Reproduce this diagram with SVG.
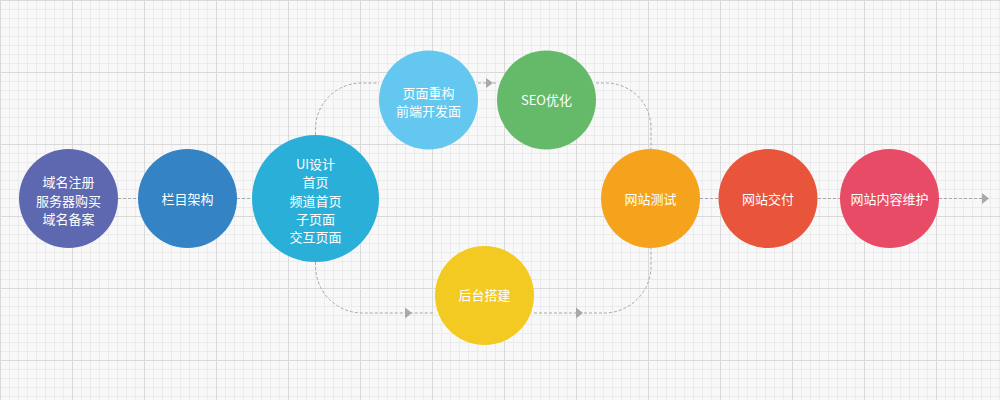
<svg xmlns="http://www.w3.org/2000/svg" width="1000" height="400" viewBox="0 0 1000 400">
<style>
.lbl{font-family:"Noto Sans CJK SC","Liberation Sans",sans-serif;font-size:13px;fill:#ffffff;text-anchor:middle}
.con{fill:none;stroke:#a8a8a8;stroke-width:1;stroke-dasharray:3 2}
.arr{fill:#a8a8a8}
</style>
<defs>
<pattern id="grid" patternUnits="userSpaceOnUse" x="0" y="0" width="72" height="72">
<rect width="72" height="72" fill="#f8f8f8"/>
<g fill="#ebebeb">
<rect x="9" y="0" width="1" height="72"/><rect x="18" y="0" width="1" height="72"/><rect x="27" y="0" width="1" height="72"/><rect x="36" y="0" width="1" height="72"/><rect x="45" y="0" width="1" height="72"/><rect x="54" y="0" width="1" height="72"/><rect x="63" y="0" width="1" height="72"/>
<rect y="9" x="0" height="1" width="72"/><rect y="18" x="0" height="1" width="72"/><rect y="27" x="0" height="1" width="72"/><rect y="36" x="0" height="1" width="72"/><rect y="45" x="0" height="1" width="72"/><rect y="54" x="0" height="1" width="72"/><rect y="63" x="0" height="1" width="72"/>
</g>
<g fill="#d9d9d9">
<rect x="0" y="0" width="1" height="72"/><rect x="0" y="0" width="72" height="1"/>
</g>
</pattern>
</defs>
<rect width="1000" height="400" fill="url(#grid)"/>
<g id="connectors">
<path class="con" d="M118,198.5 H138"/>
<path class="con" d="M237,198.5 H252"/>
<path class="con" d="M315.5,135 V129 A46 46 0 0 1 361.5 83 H379"/>
<path class="con" d="M478,83 H497"/>
<path class="arr" d="M486,78 L493,83 L486,88 Z"/>
<path class="con" d="M596,83 H606 A45 45 0 0 1 651 128 V149"/>
<path class="con" d="M315.5,262 V266 A47 47 0 0 0 362.5 313 H435"/>
<path class="arr" d="M405,307.5 L412,313 L405,318.5 Z"/>
<path class="con" d="M534,313 H604 A47 47 0 0 0 651 266 V248"/>
<path class="arr" d="M576,307.5 L583,313 L576,318.5 Z"/>
<path class="con" d="M700,198.5 H718"/>
<path class="con" d="M818,198.5 H840"/>
<path class="con" d="M939,198.5 H982"/>
<path class="arr" d="M982,193 L989,198.5 L982,204 Z"/>
</g>
<g id="n1"><circle cx="68.5" cy="198.5" r="49.5" fill="#5d68b0"/>
<text class="lbl" x="68.5" y="187">域名注册</text><text class="lbl" x="68.5" y="205.5">服务器购买</text><text class="lbl" x="68.5" y="223.5">域名备案</text></g>
<g id="n2"><circle cx="187.5" cy="198.5" r="49.5" fill="#3483c5"/>
<text class="lbl" x="187.5" y="203.5">栏目架构</text></g>
<g id="n3"><circle cx="315.5" cy="198.5" r="63.5" fill="#2aafd9"/>
<text class="lbl" x="315.5" y="168.5">UI设计</text><text class="lbl" x="315.5" y="187">首页</text><text class="lbl" x="315.5" y="205.5">频道首页</text><text class="lbl" x="315.5" y="223.5">子页面</text><text class="lbl" x="315.5" y="242">交互页面</text></g>
<g id="n4"><circle cx="428.5" cy="100" r="49.5" fill="#63c7ef"/>
<text class="lbl" x="428.5" y="98">页面重构</text><text class="lbl" x="428.5" y="116">前端开发面</text></g>
<g id="n5"><circle cx="546.5" cy="100" r="49.5" fill="#64ba69"/>
<text class="lbl" x="546.5" y="104.5">SEO优化</text></g>
<g id="n6"><circle cx="484.5" cy="295.5" r="49.5" fill="#f3ca22"/>
<text class="lbl" x="484.5" y="300">后台搭建</text></g>
<g id="n7"><circle cx="650.5" cy="198.5" r="49.5" fill="#f5a31c"/>
<text class="lbl" x="650.5" y="203.5">网站测试</text></g>
<g id="n8"><circle cx="768" cy="198.5" r="49.5" fill="#e9553a"/>
<text class="lbl" x="768" y="203.5">网站交付</text></g>
<g id="n9"><circle cx="889.5" cy="198.5" r="49.5" fill="#e84b66"/>
<text class="lbl" x="889.5" y="203.5">网站内容维护</text></g>
</svg>
